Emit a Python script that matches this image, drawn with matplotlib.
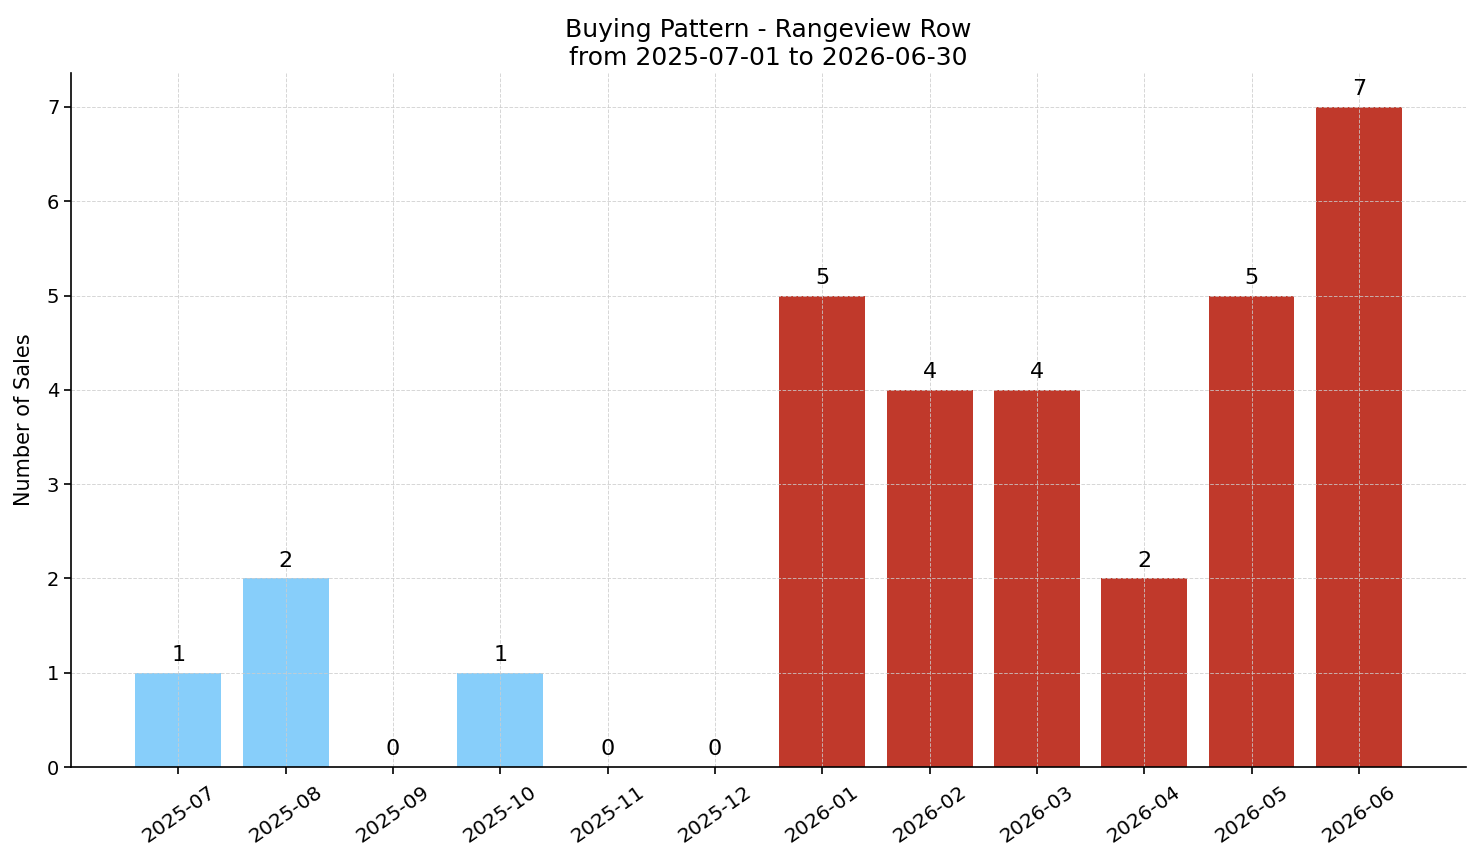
import matplotlib
matplotlib.use("Agg")
import matplotlib.pyplot as plt

months = ["2025-07", "2025-08", "2025-09", "2025-10", "2025-11", "2025-12",
          "2026-01", "2026-02", "2026-03", "2026-04", "2026-05", "2026-06"]
sales = [1, 2, 0, 1, 0, 0, 5, 4, 4, 2, 5, 7]
period = ["old"] * 6 + ["new"] * 6

colours = {"old": "#87CEFA", "new": "#C0392B"}

fig, ax = plt.subplots(figsize=(14.81, 8.63), dpi=100)

x = range(len(months))
ax.bar(x, sales, width=0.8, color=[colours[p] for p in period])

# value labels on top of bars
for xi, v in zip(x, sales):
    ax.text(xi, v + 0.08, str(v), ha="center", va="bottom", fontsize=16)

ax.set_xticks(list(x))
ax.set_xticklabels(months, rotation=35, fontsize=14.5)
ax.tick_params(axis="y", labelsize=14)
ax.tick_params(axis="both", width=1.2, length=5)
ax.tick_params(axis="x", pad=6)
ax.set_ylabel("Number of Sales", fontsize=15, labelpad=9)
ax.set_title("Buying Pattern - Rangeview Row\nfrom 2025-07-01 to 2026-06-30", fontsize=18)
ax.set_xlim(-1.0, 12.0)
ax.set_ylim(0, 7.36)

ax.grid(True, linestyle="--", color="#cccccc", alpha=0.8, linewidth=0.7)
ax.spines["top"].set_visible(False)
ax.spines["right"].set_visible(False)
ax.spines["left"].set_linewidth(1.2)
ax.spines["bottom"].set_linewidth(1.2)

fig.subplots_adjust(left=0.048, right=0.990, top=0.9154, bottom=0.1112)
fig.savefig("out.png", dpi=100)
